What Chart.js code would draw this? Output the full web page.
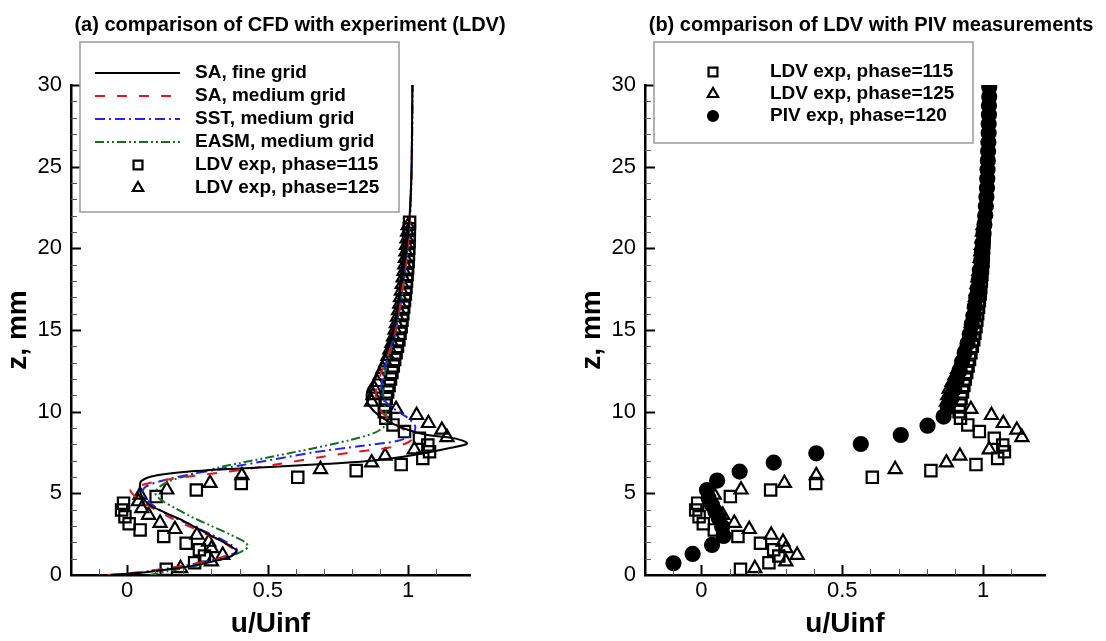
<!DOCTYPE html>
<html>
<head>
<meta charset="utf-8">
<script src="https://cdn.jsdelivr.net/npm/chart.js@4.4.1/dist/chart.umd.min.js"></script>
<style>
  html, body { margin: 0; padding: 0; background: #fff; }
  #wrap { position: relative; width: 1106px; height: 641px; overflow: hidden; }
  .panel { position: absolute; top: 0; width: 553px; height: 641px; }
</style>
</head>
<body>
<div id="wrap">
  <div class="panel" style="left:0"><canvas id="chart-a" width="553" height="641"></canvas></div>
  <div class="panel" style="left:553px"><canvas id="chart-b" width="553" height="641"></canvas></div>
</div>
<script>
// Velocity profiles: [u/Uinf, z (mm)] pairs.
const saFine = [
  [-0.06, 0], [0.04, 0.12], [0.13, 0.3], [0.23, 0.55], [0.31, 0.85], [0.37, 1.15], [0.39, 1.45],
  [0.37, 1.75], [0.31, 2.3], [0.25, 2.85], [0.19, 3.4], [0.13, 3.85], [0.075, 4.35], [0.05, 4.9],
  [0.045, 5.4], [0.05, 5.75], [0.09, 6.05], [0.2, 6.3], [0.4, 6.52], [0.65, 6.75], [0.87, 7.0],
  [1.02, 7.35], [1.14, 7.75], [1.21, 8.05], [1.17, 8.35], [1.06, 8.6], [0.98, 9.0], [0.92, 9.5],
  [0.88, 10.0], [0.855, 10.6], [0.855, 11.3], [0.875, 11.9], [0.905, 13], [0.935, 14.2],
  [0.955, 15.5], [0.97, 17.3], [0.99, 19.5], [1.005, 22], [1.012, 25], [1.015, 30]
];
const saMedium = [
  [-0.07, 0], [0.03, 0.15], [0.13, 0.38], [0.23, 0.65], [0.31, 0.95], [0.36, 1.25], [0.38, 1.5],
  [0.36, 1.8], [0.3, 2.35], [0.23, 2.9], [0.16, 3.45], [0.1, 4.0], [0.05, 4.5], [0.02, 4.95],
  [0.012, 5.2], [0.05, 5.5], [0.13, 5.8], [0.25, 6.1], [0.4, 6.42], [0.54, 6.8], [0.68, 7.2],
  [0.82, 7.55], [0.95, 7.85], [1.01, 8.25], [0.995, 8.75], [0.95, 9.3], [0.91, 9.9], [0.89, 10.5],
  [0.885, 11.2], [0.9, 12.2], [0.93, 13.5], [0.955, 15], [0.975, 17], [0.995, 19.5], [1.006, 22],
  [1.012, 25], [1.015, 30]
];
const sstMedium = [
  [-0.05, 0], [0.05, 0.17], [0.15, 0.42], [0.25, 0.72], [0.33, 1.02], [0.38, 1.32], [0.39, 1.55],
  [0.37, 1.85], [0.31, 2.4], [0.24, 2.95], [0.17, 3.5], [0.11, 4.05], [0.07, 4.6], [0.055, 5.1],
  [0.065, 5.4], [0.12, 5.75], [0.22, 6.15], [0.4, 6.7], [0.53, 7.1], [0.66, 7.5], [0.83, 7.9],
  [0.96, 8.2], [1.015, 8.6], [1.025, 9.1], [1.0, 9.6], [0.965, 10.0], [0.925, 10.5], [0.905, 11.2],
  [0.91, 12.2], [0.93, 13.5], [0.955, 15], [0.975, 17], [0.995, 19.5], [1.006, 22], [1.012, 25],
  [1.015, 30]
];
const easmMedium = [
  [0.08, 0], [0.15, 0.25], [0.24, 0.55], [0.32, 0.9], [0.39, 1.3], [0.43, 1.7], [0.42, 2.0],
  [0.37, 2.45], [0.3, 3.0], [0.23, 3.55], [0.17, 4.1], [0.12, 4.6], [0.1, 5.0], [0.115, 5.4],
  [0.16, 5.8], [0.24, 6.2], [0.33, 6.6], [0.4, 6.85], [0.53, 7.3], [0.66, 7.75], [0.79, 8.25],
  [0.88, 8.7], [0.915, 9.1], [0.925, 9.5], [0.92, 10.0], [0.915, 10.6], [0.91, 11.3], [0.915, 12.2],
  [0.935, 13.5], [0.957, 15], [0.977, 17], [0.996, 19.5], [1.007, 22], [1.013, 25], [1.016, 30]
];
const ldv115 = [
  [0.139, 0.35], [0.24, 0.75], [0.275, 1.16], [0.257, 1.55], [0.21, 1.94], [0.13, 2.36], [0.046, 2.76],
  [0.007, 3.14], [-0.008, 3.57], [-0.02, 3.98], [-0.013, 4.4], [0.103, 4.8], [0.246, 5.2], [0.406, 5.6],
  [0.607, 5.98], [0.815, 6.39], [0.975, 6.76], [1.052, 7.14], [1.076, 7.55], [1.07, 7.96], [1.04, 8.37],
  [0.987, 8.78], [0.946, 9.19], [0.92, 9.6], [0.915, 10.0], [0.918, 10.4], [0.922, 10.8], [0.927, 11.2],
  [0.932, 11.6], [0.937, 12.0], [0.942, 12.4], [0.947, 12.8], [0.952, 13.2], [0.957, 13.6], [0.962, 14.0],
  [0.967, 14.4], [0.971, 14.8], [0.975, 15.2], [0.978, 15.6], [0.981, 16.0], [0.984, 16.4], [0.987, 16.8],
  [0.99, 17.2], [0.992, 17.6], [0.994, 18.0], [0.996, 18.4], [0.998, 18.8], [1.0, 19.2], [1.001, 19.6],
  [1.002, 20.0], [1.003, 20.4], [1.004, 20.8], [1.004, 21.2], [1.005, 21.6]
];
const ldv125 = [
  [0.19, 0.41], [0.3, 0.82], [0.34, 1.22], [0.3, 1.63], [0.29, 2.02], [0.248, 2.45], [0.17, 2.8],
  [0.117, 3.18], [0.076, 3.67], [0.052, 4.08], [0.04, 4.5], [0.046, 4.9], [0.141, 5.22], [0.295, 5.62],
  [0.408, 6.1], [0.688, 6.47], [0.87, 6.88], [0.918, 7.29], [1.022, 7.68], [1.138, 8.43], [1.12, 8.88],
  [1.072, 9.29], [1.03, 9.78], [0.957, 10.15], [0.87, 10.6], [0.875, 11.0], [0.88, 11.4], [0.89, 11.8],
  [0.9, 12.2], [0.91, 12.6], [0.92, 13.0], [0.928, 13.4], [0.935, 13.8], [0.942, 14.2], [0.948, 14.6],
  [0.953, 15.0], [0.958, 15.4], [0.962, 15.8], [0.966, 16.2], [0.97, 16.6], [0.973, 17.0], [0.976, 17.4],
  [0.979, 17.8], [0.982, 18.2], [0.985, 18.6], [0.988, 19.0], [0.99, 19.4], [0.992, 19.8], [0.994, 20.2],
  [0.996, 20.6], [0.998, 21.0], [1.0, 21.4]
];
const piv120 = [
  [-0.099, 0.72], [-0.031, 1.29], [0.038, 1.84], [0.079, 2.39], [0.074, 2.96], [0.062, 3.47], [0.05, 3.88],
  [0.038, 4.29], [0.026, 4.7], [0.02, 5.2], [0.056, 5.78], [0.136, 6.33], [0.257, 6.88], [0.408, 7.45],
  [0.566, 8.02], [0.708, 8.57], [0.803, 9.14], [0.86, 9.7], [0.875, 10.26], [0.888, 10.82], [0.898, 11.38],
  [0.907, 11.94], [0.917, 12.5], [0.926, 13.06], [0.935, 13.62], [0.945, 14.18], [0.953, 14.74], [0.96, 15.3],
  [0.966, 15.86], [0.971, 16.42], [0.976, 16.98], [0.981, 17.54], [0.985, 18.1], [0.989, 18.66], [0.993, 19.22],
  [0.996, 19.78], [0.999, 20.34], [1.002, 20.9], [1.005, 21.46], [1.008, 22.02], [1.01, 22.58], [1.012, 23.14],
  [1.014, 23.7], [1.015, 24.26], [1.016, 24.82], [1.017, 25.38], [1.018, 25.94], [1.019, 26.5], [1.02, 27.06],
  [1.02, 27.62], [1.021, 28.18], [1.021, 28.74], [1.022, 29.3], [1.022, 29.86]
];

const FONT = '"Liberation Sans", Arial, Helvetica, sans-serif';
Chart.defaults.font.family = FONT;
Chart.defaults.color = '#000';

const toPoints = pairs => pairs.map(([u, z]) => ({ x: u, y: z }));

function lineSet(label, pairs, color, dash) {
  return {
    label, data: toPoints(pairs), showLine: true, borderColor: color, borderWidth: 2,
    borderDash: dash, pointRadius: 0, tension: 0.3, fill: false
  };
}

function markerSet(label, pairs, style, radius, legendRadius, fill) {
  return {
    label, data: toPoints(pairs), showLine: false, pointStyle: style, pointRadius: radius,
    pointBorderWidth: 2.2, borderColor: '#000', pointBorderColor: '#000',
    backgroundColor: fill, pointBackgroundColor: fill, legendRadius
  };
}

// Tecplot-style tick marks pointing into the plot
const innerTicks = {
  id: 'innerTicks',
  afterDraw(chart) {
    const { ctx, scales: { x, y } } = chart;
    ctx.save();
    const mark = (x1, y1, x2, y2, major) => {
      ctx.strokeStyle = major ? '#000' : '#555';
      ctx.lineWidth = major ? 2 : 1;
      ctx.beginPath(); ctx.moveTo(x1, y1); ctx.lineTo(x2, y2); ctx.stroke();
    };
    x.ticks.forEach(t => {
      const k = Math.round(t.value * 10);
      if (Math.abs(t.value * 10 - k) > 1e-6 || k <= -2) return;
      const px = Math.round(x.getPixelForValue(t.value)) + 0.5;
      const major = k % 5 === 0;
      mark(px, x.top, px, x.top - (major ? 10 : 6), major);
    });
    y.ticks.forEach(t => {
      if (t.value <= 0) return;
      const py = Math.round(y.getPixelForValue(t.value)) + 0.5;
      const major = t.value % 5 === 0;
      mark(y.right, py, y.right + (major ? 10 : 6), py, major);
    });
    ctx.restore();
  }
};

// Boxed legend built from the datasets' own styles
const boxLegend = {
  id: 'boxLegend',
  afterDraw(chart, args, opts) {
    const { ctx } = chart;
    const [bx, by, bw, bh] = opts.box;
    ctx.save();
    ctx.fillStyle = '#fff';
    ctx.fillRect(bx, by, bw, bh);
    ctx.strokeStyle = '#9a9a9a';
    ctx.lineWidth = 1.5;
    ctx.strokeRect(bx, by, bw, bh);
    chart.data.datasets.forEach((ds, i) => {
      const y = opts.firstRow + i * opts.rowGap;
      const cx = bx + opts.symbolX;
      if (ds.showLine) {
        ctx.strokeStyle = ds.borderColor;
        ctx.lineWidth = ds.borderWidth;
        ctx.setLineDash(ds.borderDash || []);
        ctx.beginPath(); ctx.moveTo(cx - 43, y); ctx.lineTo(cx + 42, y); ctx.stroke();
        ctx.setLineDash([]);
      } else {
        ctx.strokeStyle = '#000';
        ctx.fillStyle = ds.pointBackgroundColor;
        ctx.lineWidth = 2.2;
        Chart.helpers.drawPoint(ctx, { pointStyle: ds.pointStyle, radius: ds.legendRadius, borderWidth: 2.2, rotation: 0 }, cx, y);
      }
      ctx.fillStyle = '#000';
      ctx.font = `bold 19px ${FONT}`;
      ctx.textAlign = 'left';
      ctx.textBaseline = 'middle';
      ctx.fillText(ds.label, bx + opts.textX, y);
    });
    ctx.restore();
  }
};

// Panel title and axis titles
const panelText = {
  id: 'panelText',
  afterDraw(chart, args, opts) {
    const { ctx, chartArea: a } = chart;
    ctx.save();
    ctx.fillStyle = '#000';
    ctx.textAlign = 'center';
    ctx.textBaseline = 'middle';
    ctx.font = `bold 20px ${FONT}`;
    ctx.fillText(opts.title, opts.titleX, 25);
    ctx.font = `bold 28px ${FONT}`;
    ctx.fillText('u/Uinf', (a.left + a.right) / 2, 624);
    ctx.translate(opts.zLabelX, (a.top + a.bottom) / 2);
    ctx.rotate(-Math.PI / 2);
    ctx.fillText('z, mm', 0, 0);
    ctx.restore();
  }
};

function xTick(v) {
  const k = Math.round(v * 10);
  if (Math.abs(v * 10 - k) > 1e-6 || k % 5 !== 0) return '';
  return String(k / 10);
}

function buildPanel(canvasId, datasets, cfg) {
  const ctx = document.getElementById(canvasId).getContext('2d');
  return new Chart(ctx, {
    type: 'scatter',
    data: { datasets },
    plugins: [innerTicks, boxLegend, panelText],
    options: {
      responsive: false,
      animation: false,
      events: [],
      layout: { padding: { top: 85, right: cfg.padRight, bottom: 0, left: 0 } },
      plugins: {
        legend: { display: false },
        tooltip: { enabled: false },
        boxLegend: cfg.legend,
        panelText: cfg.text
      },
      scales: {
        x: {
          type: 'linear', min: -0.2, max: 1.22,
          afterFit: s => { s.height = 66; },
          grid: { display: false, drawTicks: false },
          border: { display: true, color: '#000', width: 2.5 },
          ticks: { stepSize: 0.1, autoSkip: false, maxRotation: 0, padding: 3, font: { size: 22 }, callback: xTick }
        },
        y: {
          type: 'linear', min: 0, max: 30,
          afterFit: s => { s.width = cfg.yWidth; },
          grid: { display: false, drawTicks: false },
          border: { display: true, color: '#000', width: 2.5 },
          ticks: { stepSize: 1, autoSkip: false, padding: 9, font: { size: 22 }, callback: v => (v % 5 === 0 ? String(v) : '') }
        }
      }
    }
  });
}

buildPanel('chart-a', [
  lineSet('SA, fine grid', saFine, '#000000', []),
  lineSet('SA, medium grid', saMedium, '#e3141b', [10, 12]),
  lineSet('SST, medium grid', sstMedium, '#2424ee', [10, 4, 2, 4]),
  lineSet('EASM, medium grid', easmMedium, '#12701c', [9, 3, 2, 3, 2, 3]),
  markerSet('LDV exp, phase=115', ldv115, 'rect', 8, 6.3, 'rgba(0,0,0,0)'),
  markerSet('LDV exp, phase=125', ldv125, 'triangle', 7.5, 6, 'rgba(0,0,0,0)')
], {
  padRight: 83, yWidth: 71,
  legend: { box: [80, 42, 319, 170], firstRow: 73, rowGap: 23, symbolX: 58, textX: 115 },
  text: { title: '(a) comparison of CFD with experiment (LDV)', titleX: 290, zLabelX: 18 }
});

buildPanel('chart-b', [
  markerSet('LDV exp, phase=115', ldv115, 'rect', 8, 6.3, 'rgba(0,0,0,0)'),
  markerSet('LDV exp, phase=125', ldv125, 'triangle', 7.5, 6, 'rgba(0,0,0,0)'),
  markerSet('PIV exp, phase=120', piv120, 'circle', 7, 5, '#000')
], {
  padRight: 61, yWidth: 92,
  legend: { box: [101, 42, 319, 101], firstRow: 72, rowGap: 22, symbolX: 59, textX: 116 },
  text: { title: '(b) comparison of LDV with PIV measurements', titleX: 318, zLabelX: 39 }
});
</script>
</body>
</html>
